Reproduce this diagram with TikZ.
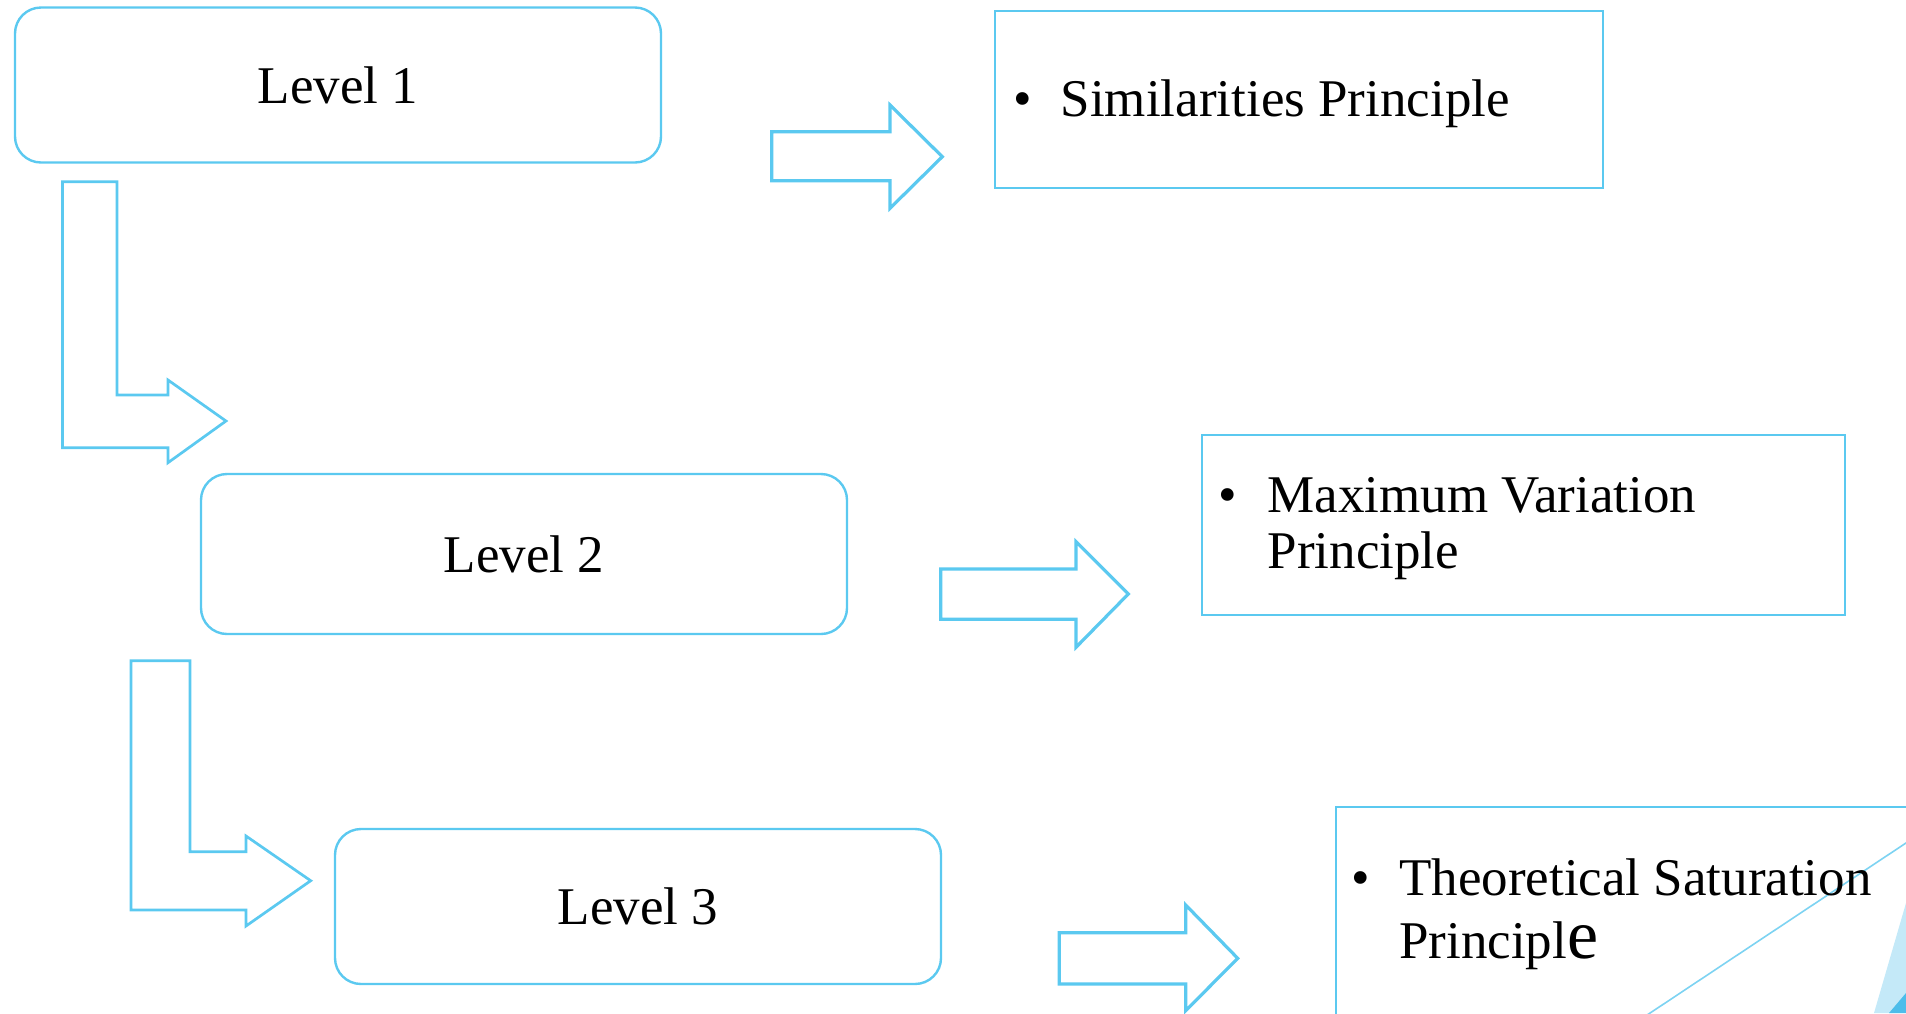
\documentclass[tikz,border=0pt]{standalone}
\usepackage{fontspec}
\setmainfont{Liberation Serif}
\definecolor{sky}{HTML}{5BC9F0}
\definecolor{skyline}{HTML}{7DD3F2}
\definecolor{skypale}{HTML}{C4E9F8}
\definecolor{skydeep}{HTML}{4DBDEA}
\begin{document}
\begin{tikzpicture}[x=1pt,y=-1pt,
  levelbox/.style={draw=sky, line width=2.4pt, rounded corners=26pt, fill=white,
    inner sep=0pt, font=\fontsize{53}{55.7}\selectfont},
  notebox/.style={draw=sky, line width=2pt, inner sep=0pt, anchor=north west},
  txt/.style={inner sep=0pt, font=\fontsize{53}{55.7}\selectfont},
  blockarrow/.style={draw=sky, line width=3.2pt, fill=white, line join=miter},
  bentarrow/.style={draw=sky, line width=2.7pt, fill=white, line join=miter}]
\useasboundingbox (0,0) rectangle (1906,1013);
\clip (0,0) rectangle (1906,1013);

% level boxes
\node[levelbox, minimum width=646pt, minimum height=155pt] (lv1) at (338,85) {Level 1};
\node[levelbox, minimum width=646pt, minimum height=160pt] (lv2) at (524,554) {Level 2};
\node[levelbox, minimum width=606pt, minimum height=155pt] (lv3) at (638,906.5) {Level 3};

% principle boxes
\node[notebox, minimum width=608pt, minimum height=177pt] (p1) at (994,10) {};
\node[notebox, minimum width=643pt, minimum height=180pt] (p2) at (1201,434) {};
\node[notebox, minimum width=700pt, minimum height=400pt] (p3) at (1335,805.7) {};

% corner decoration
\draw[skyline, line width=1.6pt] (1921,833) -- (1620,1033);
\fill[skypale] (1906,903) -- (1874,1013) -- (1906,1013) -- cycle;
\fill[skydeep] (1906,993) -- (1889,1013) -- (1906,1013) -- cycle;

% bullet texts
\node[txt, anchor=base] (b1) at ([xshift=28.5pt,yshift=-106.7pt]p1.north west) {•};
\node[txt, anchor=base west] (t1) at ([xshift=66.5pt,yshift=-106.7pt]p1.north west) {Similarities Principle};

\node[txt, anchor=base] (b2) at ([xshift=27pt,yshift=-78.7pt]p2.north west) {•};
\node[txt, anchor=base west] (t2) at ([xshift=66.5pt,yshift=-78.7pt]p2.north west)
  {\begin{tabular}[t]{@{}l@{}}Maximum Variation\\Principle\end{tabular}};

\node[txt, anchor=base] (b3) at ([xshift=26pt,yshift=-89.3pt]p3.north west) {•};
\node[txt, anchor=base west, font=\fontsize{53}{63}\selectfont] (t3) at ([xshift=64pt,yshift=-89.3pt]p3.north west)
  {\begin{tabular}[t]{@{}l@{}}Theoretical Saturation\\Principl{\fontsize{70}{63}\selectfont e}\end{tabular}};

% right block arrows
\draw[blockarrow] (771.7,131.7) -- (890,131.7) -- (890,105) -- (942.3,156.7)
  -- (890,208.3) -- (890,180.7) -- (771.7,180.7) -- cycle;
\draw[blockarrow] (940.7,569) -- (1076,569) -- (1076,541.7) -- (1128.3,594)
  -- (1076,647.3) -- (1076,619.3) -- (940.7,619.3) -- cycle;
\draw[blockarrow] (1059.3,932.7) -- (1185.7,932.7) -- (1185.7,905) -- (1237.7,958.3)
  -- (1185.7,1010.7) -- (1185.7,984) -- (1059.3,984) -- cycle;

% bent arrows between levels
\draw[bentarrow] (62.5,181.7) -- (117,181.7) -- (117,395) -- (168,395) -- (168,380)
  -- (226,421) -- (168,462.7) -- (168,447.7) -- (62.5,447.7) -- cycle;
\draw[bentarrow] (131,660.7) -- (190,660.7) -- (190,851.7) -- (246,851.7) -- (246,836)
  -- (310.7,880.7) -- (246,926) -- (246,910) -- (131,910) -- cycle;
\end{tikzpicture}
\end{document}
